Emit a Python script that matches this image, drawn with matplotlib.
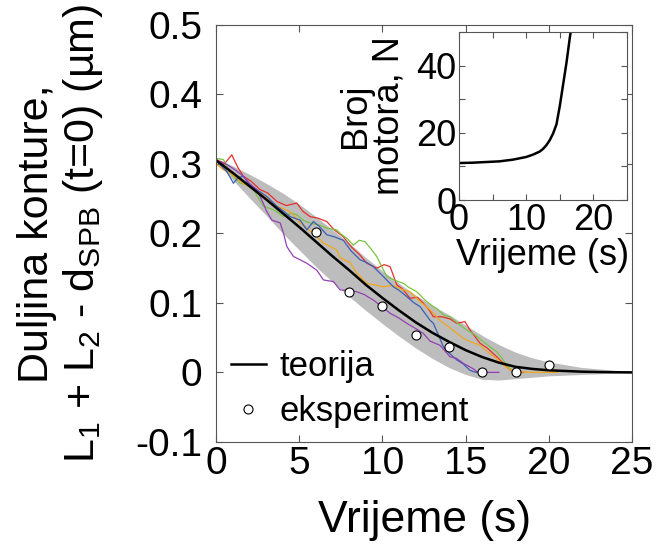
import matplotlib
matplotlib.use('Agg')
import matplotlib.pyplot as plt
from matplotlib.ticker import MultipleLocator

plt.rcParams['font.family'] = ['Liberation Sans', 'DejaVu Sans']
plt.rcParams['mathtext.fontset'] = 'custom'
plt.rcParams['mathtext.rm'] = 'Liberation Sans'
plt.rcParams['mathtext.it'] = 'Liberation Sans:italic'

# theory curve and its spread (grey band)
t_theory = list(range(26))
theory = [0.305, 0.287, 0.268, 0.249, 0.229, 0.209, 0.188, 0.167, 0.147, 0.126,
          0.107, 0.089, 0.072, 0.057, 0.044, 0.032, 0.022, 0.014, 0.008, 0.005,
          0.003, 0.002, 0.001, 0.0005, 0.0002, 0.0]
band_upper = [0.308, 0.297, 0.285, 0.272, 0.258, 0.242, 0.224, 0.205, 0.186, 0.165,
              0.146, 0.128, 0.111, 0.096, 0.083, 0.068, 0.053, 0.040, 0.029, 0.021,
              0.015, 0.011, 0.007, 0.005, 0.003, 0.002]
band_lower = [0.302, 0.277, 0.251, 0.226, 0.200, 0.176, 0.152, 0.130, 0.109, 0.089,
              0.070, 0.052, 0.035, 0.020, 0.007, -0.003, -0.010, -0.011, -0.009, -0.007,
              -0.005, -0.004, -0.003, -0.002, -0.001, -0.001]

# experiment (mean points)
t_exp = [6, 8, 10, 12, 14, 16, 18, 20]
y_exp = [0.202, 0.115, 0.095, 0.054, 0.036, 0.0, 0.001, 0.010]

# single cell traces
t_red = [0, 0.5, 0.94, 1.3, 1.64, 2.1, 2.64, 3.1, 3.65, 4.2, 4.85, 5.2, 5.65, 6.1, 6.65,
         7.1, 7.65, 8.15, 8.6, 9.06, 9.66, 10.1, 10.46, 10.86, 11.2, 11.66, 12.1, 12.46,
         12.8, 13.06, 13.56, 14.06, 14.46, 14.96, 15.26, 15.86, 16.3, 16.87, 17.47, 17.77, 18.0, 18.5]
y_red = [0.306, 0.300, 0.313, 0.295, 0.282, 0.275, 0.263, 0.258, 0.246, 0.240, 0.2435, 0.232,
         0.224, 0.222, 0.217, 0.205, 0.195, 0.180, 0.170, 0.157, 0.150, 0.155, 0.152, 0.126,
         0.120, 0.1066, 0.108, 0.0994, 0.090, 0.080, 0.080, 0.077, 0.0706, 0.073, 0.061, 0.042,
         0.035, 0.0225, 0.008, 0.002, 0.0, 0.0]

t_green = [0, 0.44, 0.84, 1.44, 1.9, 2.24, 2.84, 3.44, 4.05, 4.5, 4.85, 5.3, 5.65, 6.2, 6.65,
           7.25, 7.45, 7.9, 8.25, 8.6, 8.95, 9.3, 9.66, 10.0, 10.26, 10.8, 11.26, 11.6, 12.06,
           12.6, 13.06, 13.26, 13.7, 14.06, 14.66, 15.07, 15.5, 16.07, 16.5, 16.87, 17.2, 17.47,
           17.8, 18.2]
y_green = [0.308, 0.306, 0.287, 0.272, 0.270, 0.263, 0.239, 0.234, 0.224, 0.229, 0.2267, 0.218,
           0.2147, 0.212, 0.2075, 0.205, 0.200, 0.192, 0.183, 0.190, 0.188, 0.178, 0.1666, 0.150,
           0.138, 0.132, 0.128, 0.122, 0.116, 0.103, 0.0945, 0.092, 0.082, 0.080, 0.068, 0.061,
           0.055, 0.044, 0.036, 0.0297, 0.020, 0.0105, 0.002, 0.0]

t_blue = [0, 0.64, 1.04, 1.3, 1.64, 2.0, 2.44, 3.05, 3.65, 4.05, 4.45, 5.05, 5.45, 5.85, 6.2,
          6.65, 7.1, 7.65, 8.1, 8.65, 9.05, 9.45, 10.05, 10.66, 11.0, 11.46, 11.9, 12.26, 12.86,
          13.06, 13.66, 14.0, 14.46, 14.86, 15.26, 15.6, 16.0]
y_blue = [0.305, 0.289, 0.272, 0.280, 0.282, 0.270, 0.263, 0.253, 0.239, 0.232, 0.224, 0.219,
          0.205, 0.217, 0.210, 0.198, 0.195, 0.190, 0.175, 0.162, 0.158, 0.152, 0.138, 0.123,
          0.118, 0.109, 0.100, 0.0945, 0.075, 0.0706, 0.037, 0.028, 0.018, 0.012, 0.003, 0.0, 0.0]

t_orange = [0, 0.4, 0.84, 1.2, 1.64, 2.1, 2.64, 3.1, 3.65, 4.0, 4.45, 5.05, 5.4, 5.85, 6.45,
            6.8, 7.25, 7.45, 8.05, 8.45, 9.06, 9.5, 10.05, 10.5, 10.86, 11.2, 11.66, 12.26,
            12.86, 13.06, 13.5, 14.06, 14.86, 15.3, 15.86, 16.3, 16.87, 17.3, 17.67, 18.0, 19.0, 20.5]
y_orange = [0.300, 0.292, 0.287, 0.280, 0.272, 0.265, 0.258, 0.250, 0.239, 0.236, 0.231, 0.215,
            0.208, 0.200, 0.186, 0.182, 0.176, 0.165, 0.158, 0.143, 0.128, 0.126, 0.123, 0.125,
            0.123, 0.119, 0.116, 0.102, 0.090, 0.085, 0.074, 0.064, 0.049, 0.044, 0.039, 0.030,
            0.020, 0.010, 0.004, 0.001, 0.0, 0.0]

t_purple = [0.3, 0.64, 1.1, 1.64, 2.0, 2.44, 2.8, 3.05, 3.35, 3.85, 4.05, 4.25, 4.65, 5.05,
            5.45, 6.05, 6.45, 7.05, 7.45, 7.9, 8.45, 8.9, 9.45, 10.0, 10.46, 11.0, 11.46, 12.0,
            12.46, 12.86, 13.46, 14.06, 14.46, 14.86, 15.47, 15.67, 16.3, 17.0]
y_purple = [0.303, 0.299, 0.292, 0.282, 0.272, 0.263, 0.245, 0.231, 0.219, 0.215, 0.200, 0.181,
            0.1666, 0.162, 0.157, 0.147, 0.133, 0.1306, 0.1186, 0.118, 0.116, 0.112, 0.104, 0.094,
            0.085, 0.078, 0.0706, 0.063, 0.056, 0.045, 0.039, 0.0225, 0.020, 0.013, 0.005, 0.001,
            0.0, 0.0]

# inset: number of motors
t_motor = [0, 2, 4, 6, 8, 10, 11, 12, 12.5, 13, 13.5, 14, 14.5, 15, 15.5, 16, 16.5, 16.7]
n_motor = [11.0, 11.1, 11.3, 11.5, 12.0, 12.8, 13.5, 14.4, 15.2, 16.3, 17.8, 19.8, 22.5,
           28.0, 34.5, 41.0, 48.5, 51.0]

fig = plt.figure(figsize=(6.59, 5.51), dpi=100)
ax = fig.add_axes([0.328, 0.198, 0.631, 0.757])

ax.fill_between(t_theory, band_lower, band_upper, color='#bdbdbd', linewidth=0)
ax.plot(t_red, y_red, color='#e8302a', linewidth=0.9)
ax.plot(t_green, y_green, color='#7dc242', linewidth=0.9)
ax.plot(t_orange, y_orange, color='#f2a61c', linewidth=0.9)
ax.plot(t_blue, y_blue, color='#3a5fb5', linewidth=0.9)
ax.plot(t_purple, y_purple, color='#9440b2', linewidth=0.9)
ax.plot(t_theory, theory, color='black', linewidth=1.8, label='teorija')
ax.plot(t_exp, y_exp, 'o', markerfacecolor='white', markeredgecolor='black',
        markersize=6.5, markeredgewidth=0.8, label='eksperiment')

ax.set_xlim(0, 25)
ax.set_ylim(-0.1, 0.5)
ax.set_xticks([0, 5, 10, 15, 20, 25])
ax.set_yticks([-0.1, 0, 0.1, 0.2, 0.3, 0.4, 0.5])
ax.set_yticklabels(['-0.1', '0', '0.1', '0.2', '0.3', '0.4', '0.5'])
ax.tick_params(direction='in', top=True, right=True, length=5, width=0.8,
               labelsize=28, color='#555555')
ax.tick_params(axis='y', pad=10)
ax.tick_params(axis='x', pad=3)
for s in ax.spines.values():
    s.set_color('#555555')
    s.set_linewidth(0.8)

ax.set_xlabel('Vrijeme (s)', fontsize=32, labelpad=13)
ax.set_ylabel('Duljina konture,\nL$_\\mathrm{1}$ + L$_\\mathrm{2}$ - d$_\\mathrm{SPB}$ (t=0) (µm)',
              fontsize=31, linespacing=1.12, labelpad=22)

ax.legend(loc='lower left', bbox_to_anchor=(-0.01, -0.012), frameon=False, fontsize=25,
          handlelength=1.0, handletextpad=0.4, labelspacing=0.35, borderaxespad=0.15)

# inset
axin = fig.add_axes([0.6965, 0.637, 0.255, 0.305])
axin.plot(t_motor, n_motor, color='black', linewidth=1.8)
axin.set_xlim(0, 25)
axin.set_ylim(0, 50)
axin.set_xticks([0, 10, 20])
axin.set_yticks([0, 20, 40])
axin.xaxis.set_minor_locator(MultipleLocator(5))
axin.yaxis.set_minor_locator(MultipleLocator(10))
axin.tick_params(which='both', direction='in', top=True, right=True, color='#555555',
                 width=0.8)
axin.tick_params(which='major', length=4, labelsize=26, pad=2)
axin.tick_params(which='minor', length=4)
for s in axin.spines.values():
    s.set_color('#555555')
    s.set_linewidth(0.8)
axin.set_xlabel('Vrijeme (s)', fontsize=26, labelpad=0)
axin.set_ylabel('Broj\nmotora, N', fontsize=26, linespacing=0.95, labelpad=7)

fig.savefig('out.png', dpi=100)
